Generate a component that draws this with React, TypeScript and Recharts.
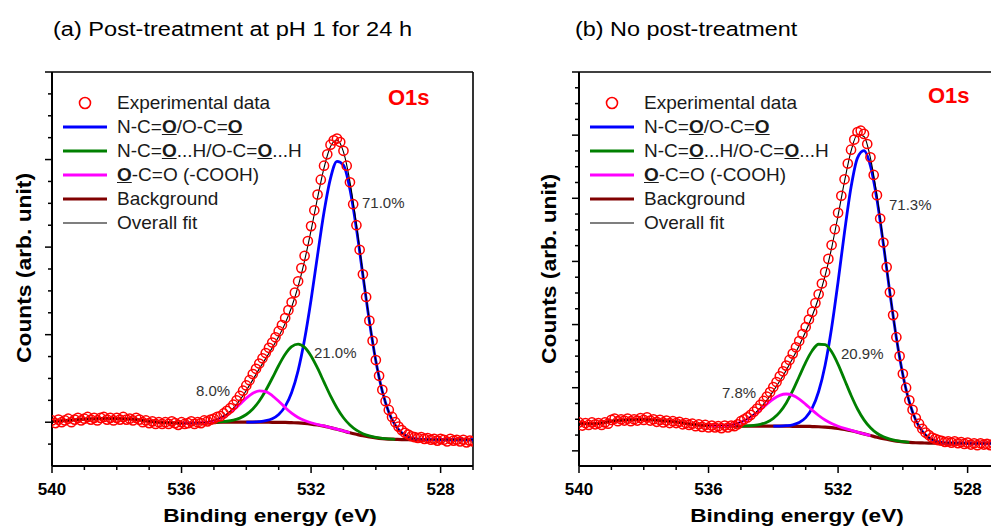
import React from "react";
import { ComposedChart, Line, Scatter, XAxis, YAxis, ReferenceLine, Legend } from "recharts";

const FONT = '"Liberation Sans", Arial, Helvetica, sans-serif';

// experimental points: 0.1 eV steps from 540 eV down to 527 eV
const EXP_BE_START = 540;
const EXP_BE_STEP = 0.1;

const EXP_A = [
  0.02, -0.01, 0.03, 0.0, 0.02, 0.04, 0.0, 0.03, 0.05, 0.02,
  0.04, 0.06, 0.03, 0.05, 0.02, 0.05, 0.06, 0.03, 0.05, 0.02,
  0.05, 0.03, 0.06, 0.03, 0.04, 0.02, 0.05, 0.03, 0.0, 0.02,
  -0.01, 0.01, -0.02, 0.0, -0.02, 0.0, -0.02, 0.01, -0.01, -0.03,
  0.0, -0.02, -0.01, 0.01, -0.02, 0.0, -0.01, 0.02, 0.01, 0.03,
  0.04, 0.06, 0.07, 0.1, 0.13, 0.16, 0.2, 0.25, 0.3, 0.36,
  0.42, 0.48, 0.55, 0.61, 0.67, 0.73, 0.79, 0.85, 0.91, 0.97,
  1.04, 1.11, 1.19, 1.28, 1.37, 1.48, 1.61, 1.76, 1.9, 2.07,
  2.24, 2.42, 2.6, 2.77, 2.93, 3.06, 3.17, 3.22, 3.24, 3.2,
  3.1, 2.93, 2.74, 2.49, 2.25, 1.97, 1.69, 1.43, 1.16, 0.93,
  0.71, 0.53, 0.37, 0.24, 0.14, 0.06, 0.0, -0.05, -0.09, -0.12,
  -0.14, -0.16, -0.17, -0.18, -0.17, -0.19, -0.18, -0.2, -0.19, -0.21,
  -0.19, -0.2, -0.22, -0.19, -0.21, -0.2, -0.22, -0.2, -0.23, -0.21,
  -0.22,
];

const EXP_B = [
  0.45, 0.4, 0.44, 0.41, 0.45, 0.42, 0.44, 0.41, 0.45, 0.43,
  0.49, 0.51, 0.47, 0.5, 0.48, 0.51, 0.47, 0.5, 0.48, 0.52,
  0.49, 0.53, 0.48, 0.5, 0.46, 0.49, 0.45, 0.48, 0.44, 0.47,
  0.44, 0.46, 0.42, 0.44, 0.41, 0.43, 0.39, 0.42, 0.38, 0.41,
  0.37, 0.4, 0.37, 0.39, 0.36, 0.4, 0.37, 0.4, 0.39, 0.42,
  0.47, 0.5, 0.53, 0.57, 0.62, 0.67, 0.73, 0.79, 0.86, 0.93,
  1.01, 1.09, 1.18, 1.26, 1.35, 1.44, 1.54, 1.64, 1.74, 1.85,
  1.96, 2.08, 2.2, 2.34, 2.48, 2.65, 2.83, 3.04, 3.26, 3.51,
  3.77, 4.04, 4.3, 4.55, 4.77, 4.93, 5.05, 5.07, 5.02, 4.86,
  4.65, 4.37, 4.05, 3.68, 3.3, 2.91, 2.51, 2.15, 1.8, 1.5,
  1.22, 1.0, 0.8, 0.65, 0.52, 0.43, 0.35, 0.29, 0.25, 0.21,
  0.19, 0.17, 0.16, 0.14, 0.15, 0.13, 0.15, 0.12, 0.14, 0.11,
  0.13, 0.1, 0.12, 0.09, 0.12, 0.1, 0.11, 0.09, 0.11, 0.09,
  0.1,
];

// energies where the fitted curves were read
const FIT_BE = [
  540, 539.5, 539, 538.5, 538, 537.5, 537, 536.5, 536, 535.5,
  535, 534.8, 534.6, 534.4, 534.2, 534, 533.8, 533.6, 533.4, 533.2,
  533, 532.8, 532.6, 532.4, 532.2, 532, 531.8, 531.6, 531.4, 531.2,
  531, 530.8, 530.6, 530.4, 530.2, 530, 529.8, 529.6, 529.4, 529.2,
  529, 528.8, 528.6, 528, 527.5, 527,
];

const n = null;

// panel (a)
const BG_A = [
  0.01, 0.02, 0.035, 0.04, 0.04, 0.035, 0.01, -0.005, -0.01, -0.01,
  -0.005, 0, 0, 0, 0, 0, 0, 0, 0, -0.001,
  -0.001, -0.002, -0.005, -0.008, -0.013, -0.021, -0.032, -0.045, -0.062, -0.08,
  -0.1, -0.12, -0.138, -0.155, -0.168, -0.179, -0.187, -0.192, -0.195, -0.198,
  -0.199, -0.2, -0.2, -0.2, -0.2, -0.2,
];
const BLUE_A = [
  n, n, n, n, n, n, n, n, n, n,
  n, n, n, n, n, 0.001, 0.002, 0.007, 0.017, 0.04,
  0.089, 0.181, 0.34, 0.59, 0.947, 1.399, 1.908, 2.401, 2.786, 2.98,
  2.936, 2.66, 2.212, 1.679, 1.153, 0.699, 0.352, 0.114, -0.035, -0.121,
  -0.165, -0.186, -0.195, -0.2, -0.2, -0.2,
];
const GREEN_A = [
  n, n, n, n, n, n, n, n, n, n,
  -0.003, 0.005, 0.011, 0.024, 0.047, 0.088, 0.151, 0.243, 0.363, 0.502,
  0.648, 0.776, 0.863, 0.892, 0.855, 0.757, 0.617, 0.458, 0.301, 0.163,
  0.051, -0.032, -0.091, -0.131, -0.157, -0.174, -0.185, -0.191, -0.195, n,
  n, n, n, n, n, n,
];
const MAG_A = [
  n, n, n, n, n, n, n, n, -0.01, -0.008,
  0.017, 0.045, 0.083, 0.137, 0.205, 0.275, 0.331, 0.359, 0.349, 0.305,
  0.24, 0.168, 0.103, 0.054, 0.019, -0.006, -0.026, -0.043, -0.061, -0.08,
  -0.1, -0.12, n, n, n, n, n, n, n, n,
  n, n, n, n, n, n,
];
const FIT_A = [
  0.01, 0.02, 0.035, 0.04, 0.04, 0.035, 0.01, -0.005, -0.01, -0.008,
  0.019, 0.05, 0.094, 0.161, 0.252, 0.364, 0.484, 0.609, 0.729, 0.849,
  0.979, 1.129, 1.316, 1.552, 1.847, 2.192, 2.563, 2.906, 3.149, 3.223,
  3.087, 2.748, 2.259, 1.703, 1.164, 0.704, 0.354, 0.114, -0.035, -0.121,
  -0.165, -0.186, -0.195, -0.2, -0.2, -0.2,
];

// panel (b)
const BG_B = [
  0.43, 0.43, 0.47, 0.49, 0.5, 0.48, 0.46, 0.42, 0.4, 0.39,
  0.39, 0.39, 0.39, 0.39, 0.39, 0.39, 0.39, 0.39, 0.389, 0.389,
  0.388, 0.385, 0.382, 0.376, 0.367, 0.355, 0.338, 0.318, 0.294, 0.268,
  0.242, 0.216, 0.192, 0.172, 0.155, 0.143, 0.134, 0.128, 0.125, 0.122,
  0.121, 0.12, 0.12, 0.12, 0.12, 0.12,
];
const BLUE_B = [
  n, n, n, n, n, n, n, n, n, n,
  n, n, n, n, n, 0.391, 0.393, 0.399, 0.413, 0.449,
  0.526, 0.675, 0.94, 1.357, 1.946, 2.679, 3.467, 4.175, 4.641, 4.754,
  4.512, 3.981, 3.269, 2.502, 1.79, 1.206, 0.774, 0.485, 0.31, 0.211,
  0.16, 0.136, 0.126, 0.12, 0.12, 0.12,
];
const GREEN_B = [
  n, n, n, n, n, n, n, n, n, n,
  0.392, 0.395, 0.403, 0.42, 0.453, 0.514, 0.613, 0.759, 0.952, 1.177,
  1.403, 1.586, 1.688, 1.682, 1.568, 1.37, 1.126, 0.881, 0.663, 0.491,
  0.366, 0.279, 0.222, 0.185, 0.16, 0.145, 0.135, n, n, n,
  n, n, n, n, n, n,
];
const MAG_B = [
  n, n, n, n, n, n, n, n, 0.401, 0.401,
  0.455, 0.502, 0.568, 0.65, 0.739, 0.821, 0.879, 0.9, 0.878, 0.82,
  0.737, 0.645, 0.56, 0.488, 0.432, 0.389, 0.355, 0.326, 0.297, 0.269,
  0.242, n, n, n, n, n, n, n, n, n,
  n, n, n, n, n, n,
];
const FIT_B = [
  0.43, 0.43, 0.47, 0.49, 0.5, 0.48, 0.46, 0.42, 0.401, 0.401,
  0.457, 0.507, 0.581, 0.68, 0.802, 0.946, 1.105, 1.278, 1.465, 1.668,
  1.89, 2.136, 2.424, 2.775, 3.212, 3.728, 4.272, 4.746, 5.013, 4.978,
  4.636, 4.044, 3.299, 2.515, 1.795, 1.208, 0.774, 0.485, 0.31, 0.211,
  0.16, 0.136, 0.126, 0.12, 0.12, 0.12,
];

const X_TICKS = [540, 539, 538, 537, 536, 535, 534, 533, 532, 531, 530, 529, 528, 527];
const X_LABELED = [540, 536, 532, 528];
const Y_TICKS_A = [-0.25, 0, 0.25, 0.5, 0.75, 1, 1.25, 1.5, 1.75, 2, 2.25, 2.5, 2.75, 3, 3.25, 3.5, 3.75, 4];
const Y_TICKS_B = [
  0, 0.25, 0.5, 0.75, 1, 1.25, 1.5, 1.75, 2, 2.25, 2.5, 2.75, 3,
  3.25, 3.5, 3.75, 4, 4.25, 4.5, 4.75, 5, 5.25, 5.5, 5.75, 6,
];

const W = 480;
const H = 528;
const MARGIN = { top: 72, right: 7, bottom: 42, left: 42 };

const XTick = (props: any) => {
  const { x, y, payload } = props;
  const v = payload.value;
  const major = X_LABELED.includes(v);
  return (
    <g>
      <line x1={x} x2={x} y1={y} y2={y + (major ? 7 : 4)} stroke="#000" strokeWidth={1.5} />
      {major && (
        <text x={x} y={y + 29} textAnchor="middle" fontFamily={FONT} fontWeight="bold" fontSize={17} fill="#000">
          {v}
        </text>
      )}
    </g>
  );
};

const YTick = (props: any) => {
  const { x, y, payload } = props;
  const major = Number.isInteger(payload.value);
  return <line x1={x} x2={x - (major ? 7 : 4)} y1={y} y2={y} stroke="#000" strokeWidth={1.5} />;
};

const Ring = (props: any) => (
  <circle cx={props.cx} cy={props.cy} r={4.6} fill="none" stroke="#ff0000" strokeWidth={1.5} />
);

const U = ({ children }: { children: React.ReactNode }) => (
  <b style={{ textDecoration: "underline" }}>{children}</b>
);

const LEGEND_ROWS: { key: string; color: string; width: number; label: React.ReactNode }[] = [
  { key: "exp", color: "#ff0000", width: 0, label: "Experimental data" },
  { key: "blue", color: "#0000ff", width: 3, label: <>N-C=<U>O</U>/O-C=<U>O</U></> },
  { key: "green", color: "#008000", width: 3, label: <>N-C=<U>O</U>...H/O-C=<U>O</U>...H</> },
  { key: "mag", color: "#ff00ff", width: 3, label: <><U>O</U>-C=O (-COOH)</> },
  { key: "bg", color: "#800000", width: 3.2, label: "Background" },
  { key: "fit", color: "#000000", width: 1.2, label: "Overall fit" },
];

const LegendBox = () => (
  <div style={{ fontFamily: FONT, fontSize: 19, color: "#1a1a1a", lineHeight: "24px" }}>
    {LEGEND_ROWS.map((r) => (
      <div key={r.key} style={{ display: "flex", alignItems: "center", height: 24, whiteSpace: "nowrap" }}>
        <svg width={44} height={24} style={{ display: "block" }}>
          {r.key === "exp" ? (
            <circle cx={22} cy={12} r={5.5} fill="none" stroke="#ff0000" strokeWidth={1.6} />
          ) : (
            <line x1={0} x2={44} y1={12} y2={12} stroke={r.color} strokeWidth={r.width} />
          )}
        </svg>
        <span style={{ marginLeft: 10 }}>{r.label}</span>
      </div>
    ))}
  </div>
);

type PanelProps = {
  left: number;
  exp: number[];
  bg: (number | null)[];
  blue: (number | null)[];
  green: (number | null)[];
  mag: (number | null)[];
  fit: (number | null)[];
  yDomain: [number, number];
  yTicks: number[];
};

function Panel(p: PanelProps) {
  const expData = p.exp.map((v, i) => ({ be: Math.round((EXP_BE_START - i * EXP_BE_STEP) * 10) / 10, v }));
  const curve = (vals: (number | null)[]) => FIT_BE.map((be, i) => ({ be, v: vals[i] }));
  const lineProps = { dataKey: "v", type: "monotone" as const, dot: false, activeDot: false, isAnimationActive: false };
  return (
    <div style={{ position: "absolute", left: p.left, top: 0 }}>
      <ComposedChart width={W} height={H} margin={MARGIN}>
        <XAxis
          dataKey="be"
          type="number"
          domain={[527, 540]}
          reversed
          allowDataOverflow
          ticks={X_TICKS}
          interval={0}
          tickSize={0}
          tickMargin={0}
          tickLine={false}
          tick={(t: any) => <XTick {...t} />}
          axisLine={{ stroke: "#000", strokeWidth: 2 }}
          height={20}
        />
        <YAxis
          dataKey="v"
          type="number"
          domain={p.yDomain}
          allowDataOverflow
          ticks={p.yTicks}
          interval={0}
          tickSize={0}
          tickMargin={0}
          tickLine={false}
          tick={(t: any) => <YTick {...t} />}
          axisLine={{ stroke: "#000", strokeWidth: 2 }}
          width={10}
        />
        <ReferenceLine y={p.yDomain[1]} stroke="#000" strokeWidth={1.6} />
        <ReferenceLine x={527} stroke="#000" strokeWidth={1.6} />
        <Scatter data={expData} dataKey="v" shape={Ring} isAnimationActive={false} />
        <Line {...lineProps} data={curve(p.bg)} stroke="#800000" strokeWidth={3.2} />
        <Line {...lineProps} data={curve(p.blue)} stroke="#0000ff" strokeWidth={2.8} />
        <Line {...lineProps} data={curve(p.green)} stroke="#008000" strokeWidth={2.8} />
        <Line {...lineProps} data={curve(p.mag)} stroke="#ff00ff" strokeWidth={2.8} />
        <Line {...lineProps} data={curve(p.fit)} stroke="#000000" strokeWidth={1.1} />
        <Legend
          layout="vertical"
          align="center"
          verticalAlign="middle"
          content={() => <LegendBox />}
          wrapperStyle={{ left: 63, top: 91, width: "auto", height: "auto" }}
        />
      </ComposedChart>
    </div>
  );
}

const txt = { fontFamily: FONT, fill: "#000" };

export default function App() {
  return (
    <div style={{ position: "absolute", left: 0, top: 0, width: 991, height: 528, overflow: "hidden", background: "#fff" }}>
      <Panel left={0} exp={EXP_A} bg={BG_A} blue={BLUE_A} green={GREEN_A} mag={MAG_A} fit={FIT_A} yDomain={[-0.5, 4]} yTicks={Y_TICKS_A} />
      <Panel left={527} exp={EXP_B} bg={BG_B} blue={BLUE_B} green={GREEN_B} mag={MAG_B} fit={FIT_B} yDomain={[-0.24, 6]} yTicks={Y_TICKS_B} />
      <svg width={991} height={528} style={{ position: "absolute", left: 0, top: 0, pointerEvents: "none" }}>
        <text {...txt} fontSize={19.5} transform="translate(53,36) scale(1.21,1)">(a) Post-treatment at pH 1 for 24 h</text>
        <text {...txt} fontSize={19.5} transform="translate(575,36) scale(1.2,1)">(b) No post-treatment</text>

        <text {...txt} fontSize={19} fontWeight="bold" textAnchor="middle" transform="translate(270,522) scale(1.19,1)">Binding energy (eV)</text>
        <text {...txt} fontSize={19} fontWeight="bold" textAnchor="middle" transform="translate(797,522) scale(1.19,1)">Binding energy (eV)</text>

        <text {...txt} fontSize={19.5} fontWeight="bold" textAnchor="middle" transform="translate(31,268) rotate(-90) scale(1.17,1)">Counts (arb. unit)</text>
        <text {...txt} fontSize={19.5} fontWeight="bold" textAnchor="middle" transform="translate(556,269) rotate(-90) scale(1.17,1)">Counts (arb. unit)</text>

        <text fontFamily={FONT} fontSize={22} fontWeight="bold" fill="#ff0000" x={388} y={105}>O1s</text>
        <text fontFamily={FONT} fontSize={22} fontWeight="bold" fill="#ff0000" x={928} y={103}>O1s</text>

        <g fontFamily={FONT} fontSize={15} fill="#333">
          <text x={362} y={208}>71.0%</text>
          <text x={314} y={358}>21.0%</text>
          <text x={196} y={396}>8.0%</text>
          <text x={889} y={210}>71.3%</text>
          <text x={841} y={359}>20.9%</text>
          <text x={722} y={398}>7.8%</text>
        </g>
      </svg>
    </div>
  );
}
